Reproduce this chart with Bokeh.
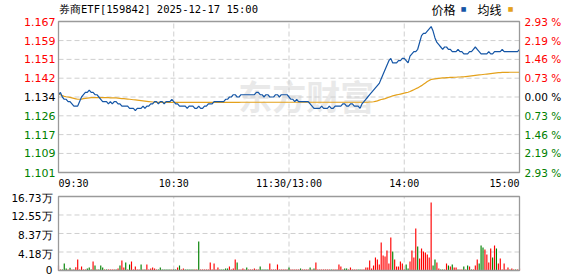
from bokeh.plotting import figure
from bokeh.models import Range1d, Label
from bokeh.embed import file_html
from bokeh.resources import INLINE

# ---------------- data ----------------
title_text = "券商ETF[159842] 2025-12-17 15:00"
prev_close = 1.134
pct_steps = [2.93, 2.19, 1.46, 0.73, 0.00, -0.73, -1.46, -2.19, -2.93]
price_tick_labels = ["1.167", "1.159", "1.151", "1.142", "1.134", "1.126", "1.117", "1.109", "1.101"]
pct_tick_labels = ["2.93 %", "2.19 %", "1.46 %", "0.73 %", "0.00 %", "0.73 %", "1.46 %", "2.19 %", "2.93 %"]
time_labels = ["09:30", "10:30", "11:30/13:00", "14:00", "15:00"]
time_label_minutes = [0, 60, 120, 180, 240]
vol_ticks = [0, 4.18, 8.37, 12.55, 16.73]
vol_tick_labels = ["0", "4.18万", "8.37万", "12.55万", "16.73万"]
legend_labels = ["价格", "均线"]

price = [
    1.135, 1.136, 1.134, 1.133, 1.133, 1.132, 1.132, 1.131, 1.130, 1.130,
    1.130, 1.132, 1.134, 1.135, 1.136, 1.136, 1.137, 1.136, 1.136, 1.135,
    1.135, 1.134, 1.133, 1.132, 1.132, 1.132, 1.131, 1.132, 1.131, 1.132,
    1.132, 1.131, 1.131, 1.130, 1.130, 1.130, 1.130, 1.129, 1.129, 1.129,
    1.128, 1.129, 1.129, 1.129, 1.130, 1.129, 1.130, 1.130, 1.131, 1.131,
    1.132, 1.132, 1.131, 1.132, 1.132, 1.131, 1.132, 1.132, 1.132, 1.133,
    1.132, 1.131, 1.131, 1.130, 1.130, 1.130, 1.130, 1.129, 1.130, 1.130,
    1.130, 1.129, 1.129, 1.130, 1.129, 1.129, 1.130, 1.130, 1.131, 1.131,
    1.131, 1.132, 1.132, 1.132, 1.132, 1.132, 1.132, 1.133, 1.133, 1.134,
    1.134, 1.135, 1.135, 1.134, 1.134, 1.135, 1.135, 1.135, 1.135, 1.135,
    1.135, 1.135, 1.135, 1.136, 1.136, 1.135, 1.135, 1.134, 1.135, 1.135,
    1.134, 1.134, 1.134, 1.135, 1.135, 1.134, 1.135, 1.135, 1.135, 1.135,
    1.134, 1.133, 1.133, 1.132, 1.133, 1.132, 1.132, 1.132, 1.132, 1.132,
    1.132, 1.131, 1.130, 1.129, 1.129, 1.129, 1.129, 1.130, 1.129, 1.129,
    1.129, 1.130, 1.129, 1.129, 1.130, 1.130, 1.130, 1.130, 1.131, 1.131,
    1.130, 1.130, 1.131, 1.131, 1.130, 1.130, 1.130, 1.129, 1.131, 1.132,
    1.133, 1.134, 1.135, 1.136, 1.137, 1.138, 1.139, 1.140, 1.142, 1.144,
    1.146, 1.148, 1.150, 1.151, 1.149, 1.149, 1.149, 1.150, 1.150, 1.151,
    1.151, 1.150, 1.149, 1.152, 1.153, 1.154, 1.154, 1.155, 1.158, 1.161,
    1.162, 1.162, 1.163, 1.164, 1.165, 1.163, 1.160, 1.158, 1.157, 1.156,
    1.155, 1.156, 1.156, 1.155, 1.155, 1.154, 1.154, 1.154, 1.155, 1.154,
    1.154, 1.153, 1.153, 1.153, 1.154, 1.154, 1.155, 1.156, 1.155, 1.154,
    1.153, 1.153, 1.153, 1.153, 1.154, 1.153, 1.153, 1.154, 1.154, 1.154,
    1.154, 1.155, 1.154, 1.154, 1.154, 1.154, 1.154, 1.154, 1.154, 1.154,
    1.155,
]

avg_price = [
    1.1352, 1.1350, 1.1346, 1.1343, 1.1341, 1.1340, 1.1338, 1.1336, 1.1334, 1.1332,
    1.1330, 1.1330, 1.1331, 1.1333, 1.1334, 1.1335, 1.1336, 1.1337, 1.1337, 1.1337,
    1.1337, 1.1337, 1.1337, 1.1337, 1.1337, 1.1337, 1.1337, 1.1336, 1.1336, 1.1336,
    1.1336, 1.1335, 1.1334, 1.1333, 1.1333, 1.1332, 1.1331, 1.1330, 1.1329, 1.1328,
    1.1327, 1.1326, 1.1325, 1.1324, 1.1323, 1.1322, 1.1321, 1.1320, 1.1319, 1.1318,
    1.1317, 1.1317, 1.1316, 1.1316, 1.1316, 1.1316, 1.1316, 1.1316, 1.1316, 1.1316,
    1.1316, 1.1316, 1.1316, 1.1316, 1.1316, 1.1316, 1.1316, 1.1316, 1.1316, 1.1316,
    1.1316, 1.1316, 1.1316, 1.1316, 1.1316, 1.1316, 1.1316, 1.1316, 1.1316, 1.1316,
    1.1316, 1.1316, 1.1316, 1.1316, 1.1316, 1.1316, 1.1316, 1.1316, 1.1316, 1.1316,
    1.1316, 1.1316, 1.1316, 1.1316, 1.1316, 1.1317, 1.1317, 1.1317, 1.1317, 1.1317,
    1.1317, 1.1317, 1.1317, 1.1317, 1.1317, 1.1317, 1.1317, 1.1317, 1.1317, 1.1317,
    1.1317, 1.1317, 1.1317, 1.1317, 1.1317, 1.1317, 1.1317, 1.1317, 1.1317, 1.1317,
    1.1317, 1.1317, 1.1317, 1.1317, 1.1317, 1.1317, 1.1317, 1.1317, 1.1317, 1.1317,
    1.1317, 1.1317, 1.1317, 1.1317, 1.1317, 1.1317, 1.1317, 1.1317, 1.1317, 1.1317,
    1.1317, 1.1317, 1.1317, 1.1317, 1.1317, 1.1317, 1.1317, 1.1317, 1.1317, 1.1317,
    1.1317, 1.1317, 1.1317, 1.1317, 1.1317, 1.1317, 1.1317, 1.1317, 1.1317, 1.1317,
    1.1317, 1.1317, 1.1318, 1.1318, 1.1319, 1.1321, 1.1323, 1.1326, 1.1329, 1.1331,
    1.1333, 1.1336, 1.1339, 1.1342, 1.1345, 1.1347, 1.1349, 1.1351, 1.1353, 1.1355,
    1.1357, 1.1359, 1.1361, 1.1364, 1.1368, 1.1372, 1.1376, 1.1380, 1.1385, 1.1390,
    1.1396, 1.1402, 1.1408, 1.1413, 1.1417, 1.1419, 1.1420, 1.1421, 1.1422, 1.1423,
    1.1424, 1.1424, 1.1425, 1.1425, 1.1426, 1.1426, 1.1427, 1.1427, 1.1428, 1.1428,
    1.1429, 1.1429, 1.1430, 1.1431, 1.1432, 1.1433, 1.1434, 1.1435, 1.1436, 1.1437,
    1.1438, 1.1439, 1.1440, 1.1441, 1.1442, 1.1443, 1.1444, 1.1445, 1.1446, 1.1447,
    1.1447, 1.1448, 1.1448, 1.1448, 1.1448, 1.1449, 1.1449, 1.1449, 1.1449, 1.1449,
    1.1449,
]

# volume in 万 (10k shares), one bar per minute
volume = [
    1.13, 0.23, 0.23, 1.58, 0.45, 0.23, 0.60, 0.23, 0.23, 0.75,
    2.49, 0.23, 0.90, 0.23, 0.23, 0.45, 0.68, 0.23, 2.04, 1.13,
    0.23, 0.23, 1.13, 0.68, 0.23, 0.23, 0.23, 0.23, 0.23, 0.23,
    0.23, 0.45, 1.13, 2.26, 0.68, 1.81, 0.23, 1.36, 2.04, 0.23,
    0.90, 0.23, 0.23, 1.36, 0.23, 0.23, 1.36, 0.23, 0.45, 0.68,
    0.45, 0.23, 0.23, 0.68, 0.23, 0.23, 0.23, 0.23, 0.23, 0.23,
    0.23, 0.23, 0.68, 1.13, 0.23, 0.45, 0.23, 0.23, 0.23, 0.23,
    0.23, 0.23, 0.23, 6.56, 0.23, 0.23, 0.23, 0.23, 0.23, 1.81,
    0.23, 1.58, 0.23, 0.68, 0.23, 0.23, 0.23, 0.45, 0.45, 0.90,
    0.23, 0.45, 2.49, 1.81, 0.23, 0.23, 0.45, 0.23, 0.68, 0.23,
    0.23, 0.23, 0.45, 0.23, 0.23, 0.90, 0.23, 0.23, 0.23, 0.23,
    1.58, 0.23, 0.23, 0.23, 1.36, 0.23, 0.23, 0.23, 0.23, 0.23,
    0.68,
    0.23, 0.23, 0.23, 0.23, 0.23, 0.45, 0.23, 0.23, 0.23, 0.23,
    0.68, 0.23, 0.45, 1.81, 0.23, 0.23, 0.23, 0.23, 0.23, 0.23,
    0.23, 0.23, 0.23, 0.23, 0.23, 1.36, 0.90, 0.23, 0.45, 0.45,
    0.23, 0.68, 0.23, 0.23, 0.23, 0.23, 0.23, 0.23, 0.23, 0.68,
    0.68, 2.26, 0.45, 1.13, 2.94, 2.49, 1.36, 6.33, 3.39, 3.17,
    4.52, 1.58, 7.46, 4.30, 2.49, 0.90, 0.90, 2.04, 1.58, 0.23,
    1.36, 0.45, 2.04, 4.52, 2.94, 9.50, 5.43, 2.71, 4.98, 4.30,
    4.07, 3.62, 2.94, 15.40, 1.13, 2.49, 1.81, 0.45, 0.23, 0.23,
    0.23, 1.58, 1.13, 0.90, 1.36, 0.68, 0.68, 0.23, 0.23, 0.23,
    0.90, 0.23, 1.13, 0.90, 0.23, 0.23, 1.13, 2.49, 1.58, 5.66,
    5.20, 4.75, 3.62, 1.81, 4.98, 2.94, 5.66, 4.98, 1.58, 2.71,
    0.23, 1.58, 0.23, 0.68, 0.23, 0.45, 0.23, 0.23, 0.23, 0.45,
]

# bar direction: r = up (red), g = down (green)
vol_dir = (
    "rrgggrgrgr" "rrrrrgggrg" "rgggrgrrrr" "grgrrgrgrr" "rrrgrgrrrr"
    "rrgggggggr" "ggrgrrgggg" "grrgrrrrrr" "rrrrgggggr" "rrrgrrrrgr"
    "rrrrrggggg" "rrrrrrrrrr" "g"
    "rrrrrgrrrr" "grgrrrrrrr" "rgrrrrrrgg" "rrrrrggrrr" "rrrrrrrrrr"
    "rrrgrrrrrr" "ggrrrrgrrr" "rrrrggrrgg" "rrgrgrrgrr" "grgrgrrrgg"
    "grrrrgrgrr" "rrrrgrrgrr"
)

# ---------------- layout / styling ----------------
W, H = 578, 276
L, R = 58, 519        # panel left / right edges (px)
T1, B1 = 21, 172      # price panel top / bottom (px)
T2, B2 = 196, 270     # volume panel top / bottom (px)
N_MIN = 240

BLUE = "#1556a6"
ORANGE = "#e4a11b"
RED = "#ff0000"
GREEN = "#008000"
GRID = "#cfcfcf"
OUTLINE = "#9a9a9a"
NUM_FONT = "DejaVu Sans"
MONO_FONT = "DejaVu Sans Mono"
CJK_FONT = "Noto Sans CJK SC"

minutes = list(range(len(price)))
y_lo = prev_close * (1 + pct_steps[-1] / 100)
y_hi = prev_close * (1 + pct_steps[0] / 100)
grid_levels = [prev_close * (1 + s / 100) for s in pct_steps]
vol_max = vol_ticks[-1]

mpp = N_MIN / (R - L)                 # minutes per pixel
ppp = (y_hi - y_lo) / (B1 - T1)       # price per pixel
vpp = vol_max / (B2 - T2)             # volume per pixel

p = figure(width=W, height=H,
           x_range=Range1d(-L * mpp, N_MIN + (W - R) * mpp),
           y_range=Range1d(y_lo - (H - B1) * ppp, y_hi + T1 * ppp),
           x_axis_type=None, y_axis_type=None, toolbar_location=None,
           output_backend="svg", min_border=0)
p.min_border_left = p.min_border_right = p.min_border_top = p.min_border_bottom = 0
p.outline_line_color = None
p.background_fill_color = "white"
p.border_fill_color = "white"
p.extra_y_ranges = {"vol": Range1d(-(H - B2) * vpp, vol_max + T2 * vpp)}

dash = "5 3"
vgrid = [60, 120, 180]

# faint watermark
p.add_layout(Label(x=129, y=prev_close + 0.0007, text="东方财富", text_color="#e9e9e9",
                   text_font=CJK_FONT, text_font_size="34px", text_font_style="bold",
                   text_align="center", text_baseline="middle", level="underlay"))

# price panel grid
p.segment(x0=[0] * 7, x1=[N_MIN] * 7, y0=grid_levels[1:-1], y1=grid_levels[1:-1],
          line_color=GRID, line_dash=dash, line_width=1)
p.segment(x0=vgrid, x1=vgrid, y0=[y_lo] * 3, y1=[y_hi] * 3,
          line_color=GRID, line_dash=dash, line_width=1)

p.line(minutes, avg_price, line_color=ORANGE, line_width=1.2)
p.line(minutes, price, line_color=BLUE, line_width=1.2)

p.quad(left=[0], right=[N_MIN], bottom=[y_lo], top=[y_hi], fill_color=None,
       line_color=OUTLINE, line_width=1.3)

# volume panel grid + bars
p.segment(x0=[0] * 3, x1=[N_MIN] * 3, y0=vol_ticks[1:-1], y1=vol_ticks[1:-1],
          line_color=GRID, line_dash=dash, line_width=1, y_range_name="vol")
p.segment(x0=vgrid, x1=vgrid, y0=[0] * 3, y1=[vol_max] * 3,
          line_color=GRID, line_dash=dash, line_width=1, y_range_name="vol")
bar_colors = [RED if d == "r" else GREEN for d in vol_dir]
p.vbar(x=minutes, top=volume, bottom=0, width=0.6, fill_color=bar_colors,
       line_color=None, y_range_name="vol")
p.quad(left=[0], right=[N_MIN], bottom=[0], top=[vol_max], fill_color=None,
       line_color=OUTLINE, line_width=1.3, y_range_name="vol")

# left price labels / right percentage labels
for s, lv, lab, pl in zip(pct_steps, grid_levels, price_tick_labels, pct_tick_labels):
    col = RED if s > 0 else (GREEN if s < 0 else "#000000")
    p.add_layout(Label(x=0, y=lv, x_offset=-3, text=lab, text_color=col, text_font=NUM_FONT,
                       text_font_size="11px", text_align="right", text_baseline="middle"))
    p.add_layout(Label(x=N_MIN, y=lv, x_offset=5, text=pl, text_color=col, text_font=NUM_FONT,
                       text_font_size="10.5px", text_align="left", text_baseline="middle"))

# time labels
aligns = ["left", "center", "center", "center", "right"]
for m, lab, al in zip(time_label_minutes, time_labels, aligns):
    p.add_layout(Label(x=m, y=y_lo - 10.5 * ppp, text=lab, text_color="#000000",
                       text_font=MONO_FONT, text_font_size="10px", text_align=al,
                       text_baseline="middle"))

# volume labels (the bottom one nudged up so it stays inside the page)
for v, lab in zip(vol_ticks, vol_tick_labels):
    dy = 0.8 if v == 0 else -1.5
    p.add_layout(Label(x=0, y=v + dy * vpp, x_offset=-6, text=lab, text_color="#000000",
                       text_font=NUM_FONT, text_font_size="10.5px", text_align="right",
                       text_baseline="middle", y_range_name="vol"))

# title and legend
p.add_layout(Label(x=0.5 * mpp, y=y_hi + 12.7 * ppp, text=title_text, text_color="#000000",
                   text_font=MONO_FONT, text_font_size="10.5px", text_align="left",
                   text_baseline="middle"))
p.add_layout(Label(x=(431 - L) * mpp, y=y_hi + 12 * ppp, text=legend_labels[0],
                   text_color="#000000", text_font=CJK_FONT, text_font_size="12px",
                   text_align="left", text_baseline="middle"))
p.add_layout(Label(x=(463 - L) * mpp, y=y_hi + 13.5 * ppp, text="■", text_color=BLUE,
                   text_font=NUM_FONT, text_font_size="6px", text_align="center",
                   text_baseline="middle"))
p.add_layout(Label(x=(477 - L) * mpp, y=y_hi + 12 * ppp, text=legend_labels[1],
                   text_color="#000000", text_font=CJK_FONT, text_font_size="12px",
                   text_align="left", text_baseline="middle"))
p.add_layout(Label(x=(510 - L) * mpp, y=y_hi + 13.5 * ppp, text="■", text_color=ORANGE,
                   text_font=NUM_FONT, text_font_size="6px", text_align="center",
                   text_baseline="middle"))

open("out.html", "w").write(file_html(p, INLINE))
